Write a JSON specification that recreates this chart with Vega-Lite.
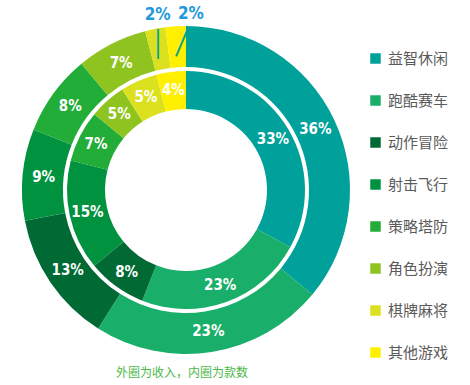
{
  "$schema": "https://vega.github.io/schema/vega-lite/v6.json",
  "width": 372,
  "height": 380,
  "padding": {"left": 0, "top": 0, "right": 98, "bottom": 5},
  "autosize": {"type": "none"},
  "background": "white",
  "view": {"stroke": null},
  "title": {
    "text": "外圈为收入，内圈为款数",
    "orient": "bottom",
    "anchor": "middle",
    "offset": -12,
    "dx": -4,
    "fontSize": 12,
    "fontWeight": "normal",
    "font": "Noto Sans CJK SC",
    "color": "#4CB848"
  },
  "data": {
    "values": [
      {"ring": "外圈", "k": 1, "cat": "益智休闲", "v": 36},
      {"ring": "外圈", "k": 2, "cat": "跑酷赛车", "v": 23},
      {"ring": "外圈", "k": 3, "cat": "动作冒险", "v": 13},
      {"ring": "外圈", "k": 4, "cat": "射击飞行", "v": 9},
      {"ring": "外圈", "k": 5, "cat": "策略塔防", "v": 8},
      {"ring": "外圈", "k": 6, "cat": "角色扮演", "v": 7},
      {"ring": "外圈", "k": 7, "cat": "棋牌麻将", "v": 2},
      {"ring": "外圈", "k": 8, "cat": "其他游戏", "v": 2},
      {"ring": "内圈", "k": 1, "cat": "益智休闲", "v": 33},
      {"ring": "内圈", "k": 2, "cat": "跑酷赛车", "v": 23},
      {"ring": "内圈", "k": 3, "cat": "动作冒险", "v": 8},
      {"ring": "内圈", "k": 4, "cat": "射击飞行", "v": 15},
      {"ring": "内圈", "k": 5, "cat": "策略塔防", "v": 7},
      {"ring": "内圈", "k": 6, "cat": "角色扮演", "v": 5},
      {"ring": "内圈", "k": 7, "cat": "棋牌麻将", "v": 5},
      {"ring": "内圈", "k": 8, "cat": "其他游戏", "v": 4}
    ]
  },
  "transform": [{"calculate": "datum.v + '%'", "as": "lbl"}],
  "encoding": {
    "theta": {"field": "v", "type": "quantitative", "stack": true},
    "order": {"field": "k", "type": "quantitative"}
  },
  "layer": [
    {
      "transform": [{"filter": "datum.ring == '外圈'"}],
      "mark": {"type": "arc", "radius": 164, "radius2": 123},
      "encoding": {
        "color": {
          "field": "cat",
          "type": "nominal",
          "scale": {
            "domain": ["益智休闲", "跑酷赛车", "动作冒险", "射击飞行", "策略塔防", "角色扮演", "棋牌麻将", "其他游戏"],
            "range": ["#00A19A", "#19AE69", "#006934", "#00923F", "#22AC38", "#8FC31F", "#DBE11E", "#FFF000"]
          },
          "sort": ["益智休闲", "跑酷赛车", "动作冒险", "射击飞行", "策略塔防", "角色扮演", "棋牌麻将", "其他游戏"],
          "legend": {
            "orient": "none",
            "legendX": 368,
            "legendY": 51,
            "title": null,
            "symbolType": "square",
            "symbolSize": 110,
            "symbolStrokeWidth": 0,
            "symbolOpacity": 1,
            "labelFontSize": 15,
            "labelFont": "Noto Sans CJK SC",
            "labelColor": "#5a5a5a",
            "labelOffset": 5,
            "rowPadding": 26,
            "padding": 0
          }
        }
      }
    },
    {
      "transform": [{"filter": "datum.ring == '内圈'"}],
      "mark": {"type": "arc", "radius": 119, "radius2": 81},
      "encoding": {
        "color": {"field": "cat", "type": "nominal"}
      }
    },
    {
      "transform": [{"filter": "datum.ring == '外圈'"}],
      "mark": {"type": "text", "radius": 143, "font": "DejaVu Sans Condensed", "fontWeight": "bold", "fontSize": 15, "fill": "white", "baseline": "middle", "align": "center"},
      "encoding": {
        "text": {"condition": {"test": "datum.v > 2", "field": "lbl"}, "value": ""}
      }
    },
    {
      "transform": [{"filter": "datum.ring == '内圈'"}],
      "mark": {"type": "text", "radius": 101, "font": "DejaVu Sans Condensed", "fontWeight": "bold", "fontSize": 15, "fill": "white", "baseline": "middle", "align": "center"},
      "encoding": {
        "text": {"field": "lbl"}
      }
    },
    {
      "transform": [{"filter": "datum.ring == '外圈'"}],
      "mark": {"type": "text", "radius": 178, "dx": 5, "font": "DejaVu Sans Condensed", "fontWeight": "bold", "fontSize": 17, "fill": "#1E9AD8", "baseline": "middle", "align": "center"},
      "encoding": {
        "text": {"condition": {"test": "datum.cat == '棋牌麻将'", "field": "lbl"}, "value": ""}
      }
    },
    {
      "transform": [{"filter": "datum.ring == '外圈'"}],
      "mark": {"type": "text", "radius": 176, "dx": 16, "font": "DejaVu Sans Condensed", "fontWeight": "bold", "fontSize": 17, "fill": "#1E9AD8", "baseline": "middle", "align": "center"},
      "encoding": {
        "text": {"condition": {"test": "datum.cat == '其他游戏'", "field": "lbl"}, "value": ""}
      }
    },
    {
      "transform": [{"filter": "datum.ring == '外圈'"}],
      "mark": {"type": "text", "radius": 150, "font": "Roboto", "fontWeight": 300, "fontSize": 35, "fill": "#00A19A", "baseline": "middle", "align": "center"},
      "encoding": {
        "text": {"condition": {"test": "datum.cat == '棋牌麻将'", "value": "|"}, "value": ""}
      }
    },
    {
      "transform": [{"filter": "datum.ring == '外圈'"}],
      "mark": {"type": "text", "radius": 151, "dx": 6, "angle": 23, "font": "Roboto", "fontWeight": 300, "fontSize": 37, "fill": "#00A19A", "baseline": "middle", "align": "center"},
      "encoding": {
        "text": {"condition": {"test": "datum.cat == '其他游戏'", "value": "|"}, "value": ""}
      }
    }
  ]
}
